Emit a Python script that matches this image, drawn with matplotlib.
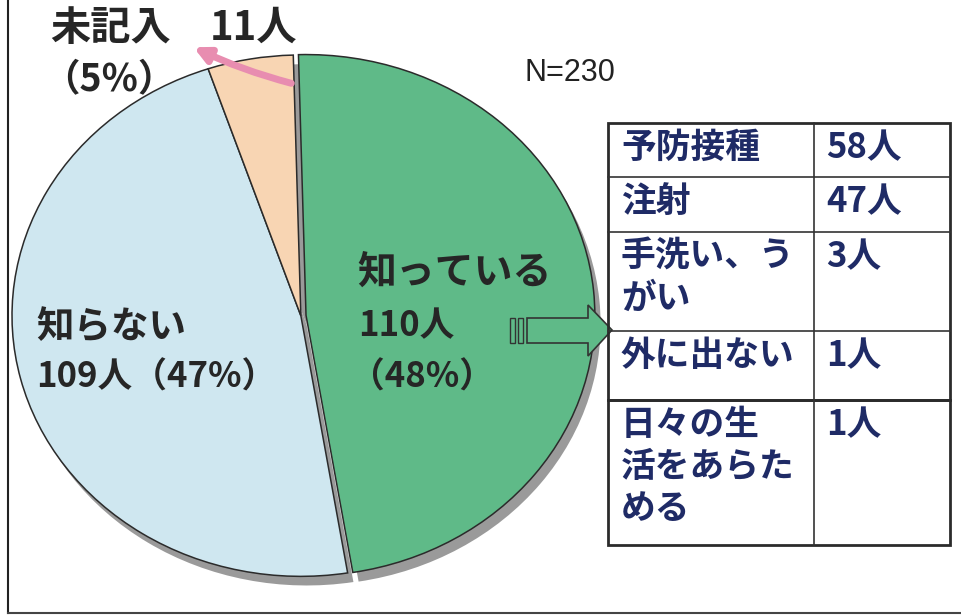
import matplotlib.pyplot as plt
import matplotlib.patches as mpatches
import numpy as np

plt.rcParams['font.family'] = ['Noto Sans CJK JP', 'DejaVu Sans']

# data
labels = ['知っている', '知らない', '未記入']
counts = [110, 109, 11]
total = 230
colors = ['#5fba88', '#cfe7f0', '#f8d5b3']

table_items = ['予防接種', '注射', '手洗い、う\nがい', '外に出ない', '日々の生\n活をあらた\nめる']
table_counts = [58, 47, 3, 1, 1]

pct = [round(c / total * 100) for c in counts]

W, H = 962, 616
fig = plt.figure(figsize=(W / 100, H / 100), dpi=100)
fig.patch.set_facecolor('white')

# pie axes (elliptical, like the scanned original)
px0, py0, pw, ph = 12, 55, 595, 537
axp = fig.add_axes([px0 / W, 1 - (py0 + ph) / H, pw / W, ph / H])
explode = [0.018, 0, 0]
axp.pie(counts, colors=['#9a9a9a'] * 3, startangle=91.5, counterclock=False,
        explode=explode, center=(0.02, -0.035),
        wedgeprops=dict(linewidth=0))
axp.pie(counts, colors=colors, startangle=91.5, counterclock=False,
        explode=explode,
        wedgeprops=dict(edgecolor='#2b2b2b', linewidth=1.1))
axp.set_aspect('auto')
axp.set_xlim(-1.0, 1.06)
axp.set_ylim(-1.06, 1.0)
axp.axis('off')

# overlay in pixel coordinates
ax = fig.add_axes([0, 0, 1, 1])
ax.set_xlim(0, W)
ax.set_ylim(H, 0)
ax.axis('off')

# frame
ax.plot([8, 8], [0, 613], color='#222', lw=1.5)
ax.plot([8, W], [613, 613], color='#444', lw=1.5)

txt = dict(color='#262626', fontweight='bold', va='center', ha='left')

# 未記入
ax.text(50, 28, f'{labels[2]}', fontsize=29, **txt)
ax.text(210, 28, f'{counts[2]}人', fontsize=29, **txt)
ax.text(42, 80, f'（{pct[2]}%）', fontsize=27, **txt)
ax.annotate('', xy=(191, 46), xytext=(294, 84),
            arrowprops=dict(arrowstyle='-|>,head_length=0.9,head_width=0.45',
                            color='#e88db0', lw=5,
                            connectionstyle='arc3,rad=-0.05'))

# 知らない
ax.text(36, 327, labels[1], fontsize=27, **txt)
ax.text(36, 377, f'{counts[1]}人（{pct[1]}%）', fontsize=25, **txt)

# 知っている
ax.text(357, 272, labels[0], fontsize=28, **txt)
ax.text(358, 326, f'{counts[0]}人', fontsize=25, **txt)
ax.text(350, 377, f'（{pct[0]}%）', fontsize=25, **txt)

# N
ax.text(525, 73, f'N={total}', fontsize=22, color='#222', va='center',
        ha='left', family='Liberation Sans')

# block arrow
ax.add_patch(mpatches.Rectangle((510, 318), 5, 25, fc='#5fba88', ec='#333', lw=1))
ax.add_patch(mpatches.Rectangle((518, 318), 5, 25, fc='#5fba88', ec='#333', lw=1))
arrow_pts = [(527, 318), (588, 318), (588, 305), (612, 330),
             (588, 356), (588, 343), (527, 343)]
ax.add_patch(mpatches.Polygon(arrow_pts, closed=True, fc='#5fba88', ec='#333', lw=1.2))

# table
tl, tc, tr = 608, 814, 950
rows = [123, 177, 232, 331, 400, 545]
ax.add_patch(mpatches.Rectangle((tl, 123), tr - tl, 400 - 123, fill=False,
                                ec='#2b2b2b', lw=2))
ax.add_patch(mpatches.Rectangle((tl, 400), tr - tl, 545 - 400, fill=False,
                                ec='#2b2b2b', lw=2))
for y in rows[1:4]:
    ax.plot([tl, tr], [y, y], color='#333', lw=1.2)
ax.plot([tc, tc], [123, 545], color='#333', lw=1.2)

tcol = '#1f2b66'
for i, (item, n) in enumerate(zip(table_items, table_counts)):
    y_top = rows[i]
    ax.text(621, y_top + 7, item, fontsize=25, color=tcol, fontweight='bold',
            va='top', ha='left', linespacing=1.25)
    ax.text(826, y_top + 7, f'{n}人', fontsize=25, color=tcol, fontweight='bold',
            va='top', ha='left')

fig.savefig('out.png', dpi=100)
